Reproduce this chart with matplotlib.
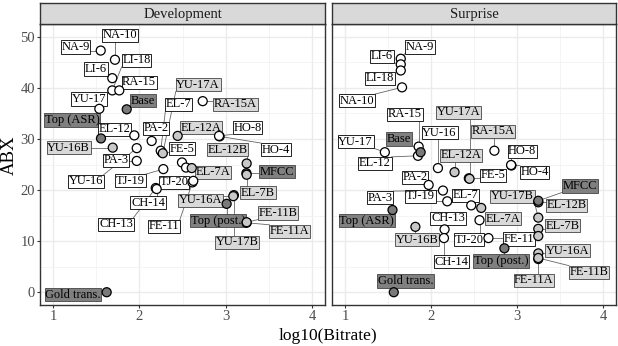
import numpy as np
import matplotlib
matplotlib.use("Agg")
import matplotlib.pyplot as plt

plt.rcParams['font.family'] = ['Liberation Serif', 'DejaVu Serif']

# ---- data: Development panel ----
dev_models = ['NA-9', 'NA-10', 'LI-6', 'LI-18', 'RA-15', 'YU-17', 'Base', 'Top (ASR)',
              'EL-12', 'PA-2', 'YU-16B', 'YU-16', 'PA-3', 'FE-5', 'EL-7', 'YU-17A',
              'RA-15A', 'EL-12A', 'HO-4', 'HO-8', 'MFCC', 'EL-12B', 'EL-7B', '', '',
              'EL-7A', 'TJ-19', 'FE-11', 'TJ-20', 'CH-13', 'CH-14', 'YU-17B', 'YU-16A',
              'Top (post.)', 'FE-11A', 'FE-11B', 'Gold trans.']
dev_bitrate = [1.553, 1.718, 1.687, 1.687, 1.768, 1.537, 1.854, 1.556,
               1.942, 2.143, 1.692, 1.970, 1.970, 2.260, 2.248, 2.272,
               2.734, 2.444, 2.930, 2.923, 3.240, 3.243, 3.243, 2.494, 2.541,
               2.607, 2.278, 2.615, 2.625, 2.190, 2.201, 3.095, 3.088,
               3.011, 3.243, 3.243, 1.622]
dev_abx = [47.3, 45.5, 41.9, 39.5, 39.5, 35.9, 35.8, 30.1,
           30.7, 29.6, 28.3, 28.2, 25.7, 27.4, 27.7, 27.2,
           37.4, 30.6, 30.5, 30.6, 23.3, 25.2, 23.0, 25.4, 24.4,
           24.3, 24.1, 21.5, 21.8, 20.4, 20.2, 19.0, 18.8,
           17.3, 13.6, 13.7, 0.0]
dev_kind = ['sys', 'sys', 'sys', 'sys', 'sys', 'sys', 'ref', 'ref',
            'sys', 'sys', 'var', 'sys', 'sys', 'sys', 'sys', 'var',
            'sys', 'var', 'sys', 'sys', 'ref', 'var', 'var', 'sys', 'sys',
            'var', 'sys', 'sys', 'sys', 'sys', 'sys', 'var', 'var',
            'ref', 'var', 'var', 'ref']

# ---- data: Surprise panel ----
sur_models = ['NA-9', 'LI-6', 'LI-18', 'NA-10', 'RA-15', 'YU-17', 'EL-12', 'Base',
              'YU-16', 'EL-12A', 'FE-5', 'YU-17A', 'RA-15A', 'HO-4', 'HO-8', 'PA-2',
              'PA-3', 'TJ-19', 'EL-7', 'EL-7A', 'Top (ASR)', 'TJ-20', 'YU-16B', 'CH-13',
              'CH-14', 'FE-11', 'Top (post.)', 'EL-12B', 'MFCC', 'YU-17B', 'EL-7B', '',
              'YU-16A', 'FE-11A', 'FE-11B', 'Gold trans.']
sur_bitrate = [1.649, 1.649, 1.649, 1.664, 1.857, 1.464, 1.849, 1.880,
               2.081, 2.274, 2.440, 2.448, 2.737, 2.935, 2.931, 1.973,
               2.139, 2.189, 2.468, 2.584, 1.553, 2.564, 1.819, 2.158,
               2.151, 2.668, 2.853, 3.247, 3.247, 3.247, 3.247, 3.247,
               3.247, 3.247, 3.247, 1.568]
sur_abx = [45.7, 44.6, 43.4, 40.1, 28.5, 27.4, 26.7, 27.4,
           24.3, 23.5, 22.3, 22.2, 27.7, 24.8, 24.9, 21.0,
           19.9, 17.8, 17.0, 16.5, 16.1, 14.1, 12.8, 12.3,
           10.6, 10.6, 8.6, 17.6, 17.9, 14.6, 12.4, 11.0,
           7.6, 6.5, 6.7, 0.0]
sur_kind = ['sys', 'sys', 'sys', 'sys', 'sys', 'sys', 'sys', 'ref',
            'sys', 'var', 'sys', 'var', 'sys', 'sys', 'sys', 'sys',
            'sys', 'sys', 'sys', 'var', 'ref', 'sys', 'var', 'sys',
            'sys', 'sys', 'ref', 'var', 'ref', 'var', 'var', 'var',
            'var', 'var', 'var', 'ref']

# ---- layout: where each repelled label sits relative to its point ----
dev_offsets = [(-0.29, 0.7), (0.06, 4.8), (-0.19, 1.8), (0.28, 5.9), (0.23, 1.6),
               (-0.12, 1.9), (0.19, 1.7), (-0.33, 3.6), (-0.23, 1.2), (0.05, 2.5),
               (-0.51, 0.0), (-0.59, -6.5), (-0.24, 0.1), (0.23, 0.7), (0.21, 9.1),
               (0.41, 13.4), (0.38, -0.6), (0.27, 1.6), (0.65, -2.6), (0.33, 1.6),
               (0.35, 0.3), (-0.22, 2.7), (0.13, -3.5), None, None,
               (0.25, -0.8), (-0.38, -2.3), (-0.33, -8.6), (-0.22, -0.3), (-0.46, -7.1),
               (-0.10, -2.7), (0.04, -9.2), (-0.38, -0.8), (-0.10, -3.3), (0.50, -1.7),
               (0.36, 1.8), (-0.39, -0.5)]
sur_offsets = [(0.22, 2.3), (-0.22, 1.6), (-0.24, -1.5), (-0.52, -2.6), (-0.16, 6.3),
               (-0.34, 2.1), (-0.50, -1.5), (-0.25, 2.6), (0.02, 6.9), (0.08, 3.3),
               (0.28, 0.6), (-0.13, 13.0), (-0.02, 3.8), (0.27, -1.3), (0.13, 2.7),
               (-0.16, 1.5), (-0.73, -1.4), (-0.31, 1.0), (-0.07, 2.0), (0.25, -2.1),
               (-0.30, -2.1), (-0.12, -3.8), (0.02, -2.5), (0.04, 2.2), (0.09, -4.6),
               (0.35, -0.2), (-0.04, -2.5), (0.33, -0.6), (0.48, 2.9), (-0.30, 4.2),
               (0.28, 0.6), None, (0.34, 0.5), (-0.05, -4.2), (0.59, -2.8), (0.14, 2.2)]

point_fill = {'sys': 'white', 'var': '#c8c8c8', 'ref': '#7a7a7a'}
label_fill = {'sys': 'white', 'var': '#d9d9d9', 'ref': '#808080'}

W, H = 618, 346
fig = plt.figure(figsize=(W / 100, H / 100), dpi=100)

panels = [
    ('Development', dev_models, dev_bitrate, dev_abx, dev_kind, dev_offsets, 40, 285),
    ('Surprise', sur_models, sur_bitrate, sur_abx, sur_kind, sur_offsets, 332, 284),
]

all_labels = []
for title, names, xs, ys, kinds, offs, left_px, width_px in panels:
    ax = fig.add_axes([left_px / W, 41 / H, width_px / W, 281 / H])
    ax.set_xlim(0.85, 4.15)
    ax.set_ylim(-2.5, 52.5)
    ax.set_xticks([1, 2, 3, 4])
    ax.set_xticks([1.5, 2.5, 3.5], minor=True)
    ax.set_yticks(np.arange(0, 51, 10))
    ax.set_yticks(np.arange(5, 50, 10), minor=True)
    ax.grid(True, which='major', color='#ebebeb', lw=1.0, zorder=0)
    ax.grid(True, which='minor', color='#f2f2f2', lw=0.6, zorder=0)
    ax.set_axisbelow(True)
    for s in ax.spines.values():
        s.set_color('#333333')
        s.set_linewidth(1.0)
    ax.tick_params(which='major', length=2.5, width=0.8, color='#333333',
                   labelcolor='#4d4d4d', labelsize=10.5, pad=1)
    ax.tick_params(which='minor', length=0)
    if title == 'Surprise':
        ax.tick_params(axis='y', which='major', length=0, labelleft=False)

    ax.scatter(xs, ys, s=42, c=[point_fill[k] for k in kinds],
               edgecolors='black', linewidths=0.9, zorder=5)

    for name, x, y, k, off in zip(names, xs, ys, kinds, offs):
        if off is None:
            continue
        lk = 'var' if name[-1] in 'AB' else k
        t = ax.text(x + off[0], y + off[1], name, fontsize=9, ha='center',
                    va='center', color='black', zorder=4,
                    bbox=dict(boxstyle='square,pad=0.05', fc=label_fill[lk],
                              ec='black' if lk == 'sys' else '#444444', lw=0.6))
        all_labels.append((ax, t, x, y))

    sax = fig.add_axes([left_px / W, 322 / H, width_px / W, 21 / H])
    sax.set_facecolor('#d9d9d9')
    sax.set_xticks([])
    sax.set_yticks([])
    for s in sax.spines.values():
        s.set_color('#333333')
        s.set_linewidth(1.0)
    sax.text(0.5, 0.45, title, ha='center', va='center', fontsize=10.5,
             color='#1a1a1a', transform=sax.transAxes)

fig.text(9 / W, 0.55, 'ABX', rotation=90, ha='center', va='center', fontsize=13.5)
fig.text(328 / W, 2 / H, 'log10(Bitrate)', ha='center', va='bottom', fontsize=12.5)

# leader segments from each point to the nearest edge of its label box
fig.canvas.draw()
renderer = fig.canvas.get_renderer()
for ax, t, x, y in all_labels:
    bb = t.get_bbox_patch().get_window_extent(renderer)
    px, py = ax.transData.transform((x, y))
    nx = min(max(px, bb.x0), bb.x1)
    ny = min(max(py, bb.y0), bb.y1)
    if np.hypot(px - nx, py - ny) > 6:
        (x0, y0), (x1, y1) = ax.transData.inverted().transform([(px, py), (nx, ny)])
        ax.plot([x0, x1], [y0, y1], color='#666666', lw=0.6, zorder=3)

fig.savefig('out.png', dpi=100)
